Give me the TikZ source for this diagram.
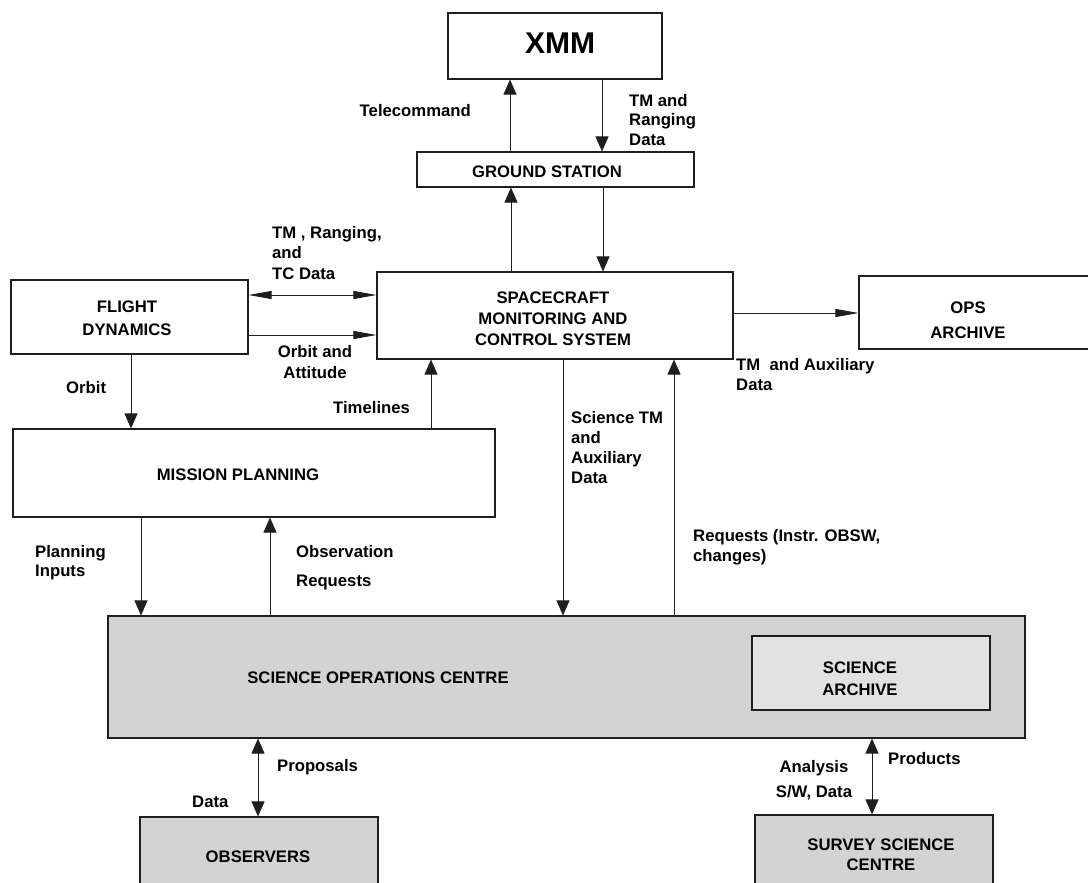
\documentclass[tikz,border=0pt]{standalone}
\usepackage{fontspec}
\setmainfont{Liberation Sans}
\usetikzlibrary{arrows.meta}
\definecolor{socgray}{RGB}{211,211,211}
\definecolor{sagray}{RGB}{226,226,226}
\definecolor{linec}{RGB}{30,30,30}
\begin{document}
\begin{tikzpicture}[x=1pt,y=-1pt,
  box/.style={draw=linec,line width=1.1pt,rectangle,inner sep=0pt},
  lab/.style={font=\fontsize{16.7}{20.5}\selectfont\bfseries,inner sep=0pt,align=left},
  btxt/.style={font=\fontsize{16.7}{21}\selectfont\bfseries,inner sep=0pt,align=center},
  conn/.style={draw=linec,line width=0.9pt},
  varr/.style={conn,-{Triangle[length=15pt,width=13pt]}},
  vdarr/.style={conn,{Triangle[length=15pt,width=13pt]}-{Triangle[length=15pt,width=13pt]}},
  harr/.style={conn,-{Triangle[length=23pt,width=8pt]}},
  hdarr/.style={conn,{Triangle[length=23pt,width=8pt]}-{Triangle[length=23pt,width=8pt]}}
]
\useasboundingbox (0,0) rectangle (1088,883);
\fill[white] (0,0) rectangle (1088,883);

% boxes
\node[box,minimum width=214pt,minimum height=66pt] (xmm) at (555,46) {};
\node[box,minimum width=277pt,minimum height=35pt] (gs) at (555.5,169.5) {};
\node[box,minimum width=237pt,minimum height=74pt] (fd) at (129.5,317) {};
\node[box,minimum width=356pt,minimum height=87pt] (smcs) at (555,315.5) {};
\node[box,minimum width=236pt,minimum height=73pt] (ops) at (977,312.5) {};
\node[box,minimum width=482pt,minimum height=88pt] (mp) at (254,473) {};
\node[box,fill=socgray,minimum width=917pt,minimum height=122pt] (soc) at (566.5,677) {};
\node[box,fill=sagray,minimum width=238pt,minimum height=74pt] (sa) at (871,673) {};
\node[box,fill=socgray,minimum width=238pt,minimum height=78pt] (obs) at (259,856) {};
\node[box,fill=socgray,minimum width=238pt,minimum height=80pt] (ssc) at (874,855) {};

% box texts
\node[btxt,font=\fontsize{30}{36}\selectfont\bfseries] (txmm) at (560,43) {XMM};
\node[btxt] (tgs) at (547,172) {GROUND STATION};
\node[btxt,font=\fontsize{16.7}{23}\selectfont\bfseries] (tfd) at (127,318) {FLIGHT\\DYNAMICS};
\node[btxt] (tsmcs) at (553,319) {SPACECRAFT\\MONITORING AND\\CONTROL SYSTEM};
\node[btxt,font=\fontsize{16.7}{25}\selectfont\bfseries] (tops) at (968,320) {OPS\\ARCHIVE};
\node[btxt] (tmp) at (238,475) {MISSION PLANNING};
\node[btxt] (tsoc) at (378,678) {SCIENCE OPERATIONS CENTRE};
\node[btxt,font=\fontsize{16.7}{22}\selectfont\bfseries] (tsa) at (860,679) {SCIENCE\\ARCHIVE};
\node[btxt] (tobs) at (258,857) {OBSERVERS};
\node[btxt,font=\fontsize{16.7}{20}\selectfont\bfseries] (tssc) at (881,855) {SURVEY SCIENCE\\CENTRE};

% helper coordinates for connector positions
\coordinate (x1) at (510,0);
\coordinate (x2) at (602,0);
\coordinate (x3) at (511,0);
\coordinate (x4) at (603,0);
\coordinate (y1) at (0,295);
\coordinate (y2) at (0,335);
\coordinate (y3) at (0,313);
\coordinate (x5) at (131,0);
\coordinate (x6) at (431,0);
\coordinate (x7) at (563,0);
\coordinate (x8) at (674,0);
\coordinate (x9) at (141,0);
\coordinate (x10) at (270,0);
\coordinate (x11) at (258,0);
\coordinate (x12) at (872,0);

% connectors
\draw[varr] (gs.north -| x1) -- (xmm.south -| x1);
\draw[varr] (xmm.south -| x2) -- (gs.north -| x2);
\draw[varr] (smcs.north -| x3) -- (gs.south -| x3);
\draw[varr] (gs.south -| x4) -- (smcs.north -| x4);
\draw[hdarr] (fd.east |- y1) -- (smcs.west |- y1);
\draw[harr] (fd.east |- y2) -- (smcs.west |- y2);
\draw[harr] (smcs.east |- y3) -- (ops.west |- y3);
\draw[varr] (fd.south -| x5) -- (mp.north -| x5);
\draw[varr] (mp.north -| x6) -- (smcs.south -| x6);
\draw[varr] (smcs.south -| x7) -- (soc.north -| x7);
\draw[varr] (soc.north -| x8) -- (smcs.south -| x8);
\draw[varr] (mp.south -| x9) -- (soc.north -| x9);
\draw[varr] (soc.north -| x10) -- (mp.south -| x10);
\draw[vdarr] (soc.south -| x11) -- (obs.north -| x11);
\draw[vdarr] (soc.south -| x12) -- (ssc.north -| x12);

% labels
\node[lab,anchor=east] (ltc) at (471,111) {Telecommand};
\node[lab,anchor=west,font=\fontsize{16.7}{19.5}\selectfont\bfseries] (ltm) at (629,120) {TM and\\Ranging\\Data};
\node[lab,anchor=west] (ltmr) at (272,253) {TM , Ranging,\\and\\TC Data};
\node[lab,align=center] (loa) at (315,362) {Orbit and\\Attitude};
\node[lab,anchor=west] (lorb) at (66,388) {Orbit};
\node[lab,anchor=west] (ltl) at (333,408) {Timelines};
\node[lab,anchor=west,font=\fontsize{16.7}{20}\selectfont\bfseries] (ltma) at (736,375) {TM\ \ and Auxiliary\\Data};
\node[lab,anchor=west,font=\fontsize{16.7}{20}\selectfont\bfseries] (lsci) at (571,448) {Science TM\\and\\Auxiliary\\Data};
\node[lab,anchor=west,font=\fontsize{16.7}{20}\selectfont\bfseries] (lreq) at (693,547) {Requests (Instr. OBSW,\\changes)};
\node[lab,anchor=west,font=\fontsize{16.7}{19}\selectfont\bfseries] (lpi) at (35,562.5) {Planning\\Inputs};
\node[lab,anchor=west,font=\fontsize{16.7}{29}\selectfont\bfseries] (lobr) at (296,567.5) {Observation\\Requests};
\node[lab,anchor=west] (lprop) at (277,767) {Proposals};
\node[lab,anchor=west] (ldata) at (192,802) {Data};
\node[lab,align=center,font=\fontsize{16.7}{25}\selectfont\bfseries] (lana) at (814,780.5) {Analysis\\S/W, Data};
\node[lab,anchor=west] (lprod) at (888,759) {Products};
\end{tikzpicture}
\end{document}
